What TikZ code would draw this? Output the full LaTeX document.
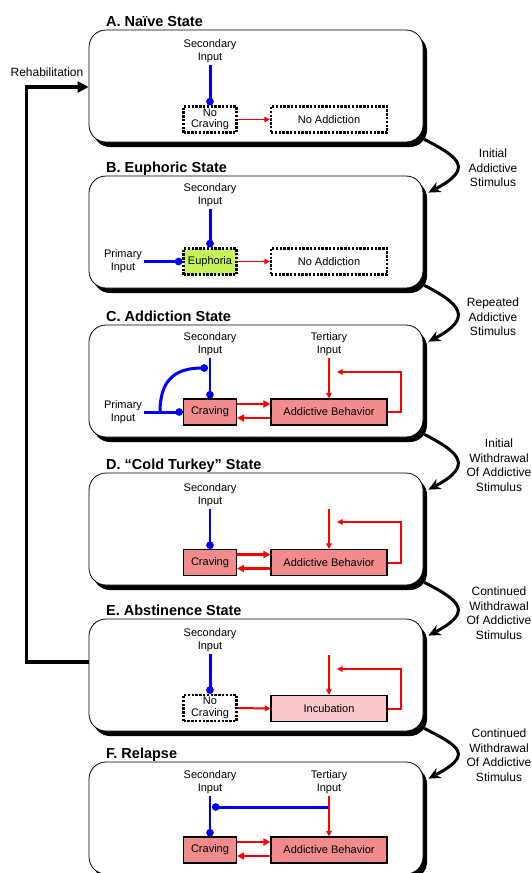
\documentclass[tikz,border=0pt]{standalone}
\usepackage{fontspec}
\setmainfont{Liberation Sans}
\usetikzlibrary{arrows.meta,shadows}
\definecolor{inblue}{RGB}{0,0,255}
\definecolor{outred}{RGB}{255,0,0}
\definecolor{cravepink}{RGB}{242,140,140}
\definecolor{incupink}{RGB}{250,200,200}
\definecolor{euphgreen}{RGB}{198,242,90}

\begin{document}
\begin{tikzpicture}[x=1pt,y=-1pt,
	panel/.style={draw,line width=0.8pt,rounded corners=17pt,fill=white,minimum width=334pt,minimum height=112pt,inner sep=0pt,
		drop shadow={shadow xshift=4pt,shadow yshift=-5pt,fill=black,opacity=1}},
	title/.style={anchor=base west,inner sep=0pt,font=\fontsize{14.5}{17}\selectfont\bfseries},
	lbl/.style={align=center,inner sep=2pt,font=\fontsize{11}{13}\selectfont},
	sidelbl/.style={align=center,inner sep=1pt,font=\fontsize{12}{14.5}\selectfont},
	solidbox/.style={draw,line width=1.1pt,fill=cravepink,minimum height=26pt,inner sep=0pt,font=\fontsize{11}{13}\selectfont},
	cravebox/.style={solidbox,minimum width=53pt},
	behavbox/.style={solidbox,minimum width=116pt},
	dotbox/.style={draw,line width=2.3pt,dash pattern=on 2.4pt off 1.4pt,fill=white,minimum height=26pt,inner sep=0pt,align=center,font=\fontsize{11}{11.5}\selectfont},
	bluein/.style={inblue,line width=2.2pt,-{Circle[length=7.5pt,width=7.5pt]}},
	redout/.style={outred,line width=2.8pt,-{Triangle[length=7pt,width=7pt]}},
	redthin/.style={outred,line width=1.6pt,-{Triangle[length=5.5pt,width=5.5pt]}},
	stateArrow/.style={line width=3pt,-{Stealth[length=12pt,width=11pt]}}]
	\useasboundingbox (0,0) rectangle (531,873);
	% panels and titles
	\foreach \n/\ypos/\ttl in {A/30/A. Naïve State,B/176/B. Euphoric State,C/325/C. Addiction State,D/473/D. “Cold Turkey” State,E/619/E. Abstinence State,F/762/F. Relapse} {
		\node[panel] (p\n) at (256,\ypos+56) {};
		\node[title] (t\n) at (106,\ypos-4) {\ttl};
	}
	% A. naive
	\node[lbl] (secA) at (210,51) {Secondary\\Input};
	\node[dotbox,minimum width=53pt] (noA) at (210,119.5) {No\\Craving};
	\node[dotbox,minimum width=116pt] (naA) at (329,119.5) {No Addiction};
	\draw[bluein,line width=3pt] (secA.south) -- (noA.north);
	\draw[redthin,line width=1.2pt] (noA.east) -- (naA.west);
	% B. euphoric
	\node[lbl] (secB) at (210,195) {Secondary\\Input};
	\node[lbl] (priB) at (123,261.5) {Primary\\Input};
	\node[dotbox,fill=euphgreen,minimum width=53pt] (euB) at (210,261.5) {Euphoria};
	\node[dotbox,minimum width=116pt] (naB) at (329,261.5) {No Addiction};
	\draw[bluein,line width=3pt] (secB.south) -- (euB.north);
	\draw[bluein,line width=3pt] (priB.east) -- (euB.west);
	\draw[redthin] (euB.east) -- (naB.west);
	% C. addiction
	\node[lbl] (secC) at (210,344) {Secondary\\Input};
	\node[lbl] (terC) at (329,344) {Tertiary\\Input};
	\node[lbl] (priC) at (123,412) {Primary\\Input};
	\node[cravebox] (crC) at (210,412) {Craving};
	\node[behavbox] (abC) at (329,412) {Addictive Behavior};
	\coordinate (jC) at (160,412);
	\coordinate (kC) at (208,368);
	\coordinate (fbC) at (337,372);
	\draw[bluein,line width=1.8pt] (secC.south) -- (crC.north);
	\draw[bluein,line width=3pt] (priC.east) -- (crC.west);
	\draw[bluein,line width=3pt] (jC) .. controls (160,380) and (175,368) .. (kC);
	\draw[redout] ([yshift=8pt]crC.east) -- ([yshift=8pt]abC.west);
	\draw[redout] ([yshift=-6pt]abC.west) -- ([yshift=-6pt]crC.east);
	\draw[redthin,line width=2pt] (terC.south) -- (abC.north);
	\draw[redthin,line width=2pt] (abC.east) -- ++(13,0) |- (fbC);
	% D. cold turkey
	\node[lbl] (secD) at (210,495) {Secondary\\Input};
	\node[cravebox] (crD) at (210,562.5) {Craving};
	\node[behavbox] (abD) at (329,562.5) {Addictive Behavior};
	\coordinate (terD) at (329,509);
	\coordinate (fbD) at (337,522);
	\draw[bluein,line width=1.8pt] (secD.south) -- (crD.north);
	\draw[redout] ([yshift=8pt]crD.east) -- ([yshift=8pt]abD.west);
	\draw[redout] ([yshift=-6pt]abD.west) -- ([yshift=-6pt]crD.east);
	\draw[redthin,line width=2pt] (terD) -- (abD.north);
	\draw[redthin,line width=2pt] (abD.east) -- ++(13,0) |- (fbD);
	% E. abstinence
	\node[lbl] (secE) at (210,640) {Secondary\\Input};
	\node[dotbox,minimum width=53pt] (noE) at (210,708) {No\\Craving};
	\node[solidbox,fill=incupink,minimum width=116pt] (inE) at (329,708.5) {Incubation};
	\coordinate (terE) at (329,655);
	\coordinate (fbE) at (337,669);
	\draw[bluein,line width=3pt] (secE.south) -- (noE.north);
	\draw[redthin,line width=2pt] (noE.east) -- (inE.west);
	\draw[redthin,line width=2pt] (terE) -- (inE.north);
	\draw[redthin,line width=2pt] (inE.east) -- ++(13,0) |- (fbE);
	% F. relapse
	\node[lbl] (secF) at (210,782) {Secondary\\Input};
	\node[lbl] (terF) at (329,782) {Tertiary\\Input};
	\node[cravebox] (crF) at (210,850) {Craving};
	\node[behavbox] (abF) at (329,850) {Addictive Behavior};
	\coordinate (jF) at (329,807);
	\coordinate (kF) at (212,807);
	\draw[bluein,line width=1.8pt] (secF.south) -- (crF.north);
	\draw[bluein,line width=3pt] (jF) -- (kF);
	\draw[redthin,line width=2pt] (terF.south) -- (abF.north);
	\draw[redout] ([yshift=8pt]crF.east) -- ([yshift=8pt]abF.west);
	\draw[redout] ([yshift=-6pt]abF.west) -- ([yshift=-6pt]crF.east);
	% state transitions
	\foreach \u/\v in {A/B,B/C,C/D,D/E,E/F}
		\draw[stateArrow] ([xshift=1pt,yshift=3pt]p\u.south east) .. controls +(35,18) and +(46,-24) .. ([xshift=5pt,yshift=-17pt]p\v.north east);
	\node[sidelbl] (stimAB) at (493,168) {Initial\\Addictive\\Stimulus};
	\node[sidelbl] (stimBC) at (493,317) {Repeated\\Addictive\\Stimulus};
	\node[sidelbl] (stimCD) at (499,465) {Initial\\Withdrawal\\Of Addictive\\Stimulus};
	\node[sidelbl] (stimDE) at (499,613) {Continued\\Withdrawal\\Of Addictive\\Stimulus};
	\node[sidelbl] (stimEF) at (499,755) {Continued\\Withdrawal\\Of Addictive\\Stimulus};
	% rehabilitation
	\draw[line width=3.5pt,-{Triangle[length=11pt,width=11pt]}] ([yshift=13pt]pE.west) -- ++(-62,0) |- ([yshift=-1pt]pA.west);
	\node[sidelbl] (rehab) at (47,72) {Rehabilitation};
\end{tikzpicture}
\end{document}
